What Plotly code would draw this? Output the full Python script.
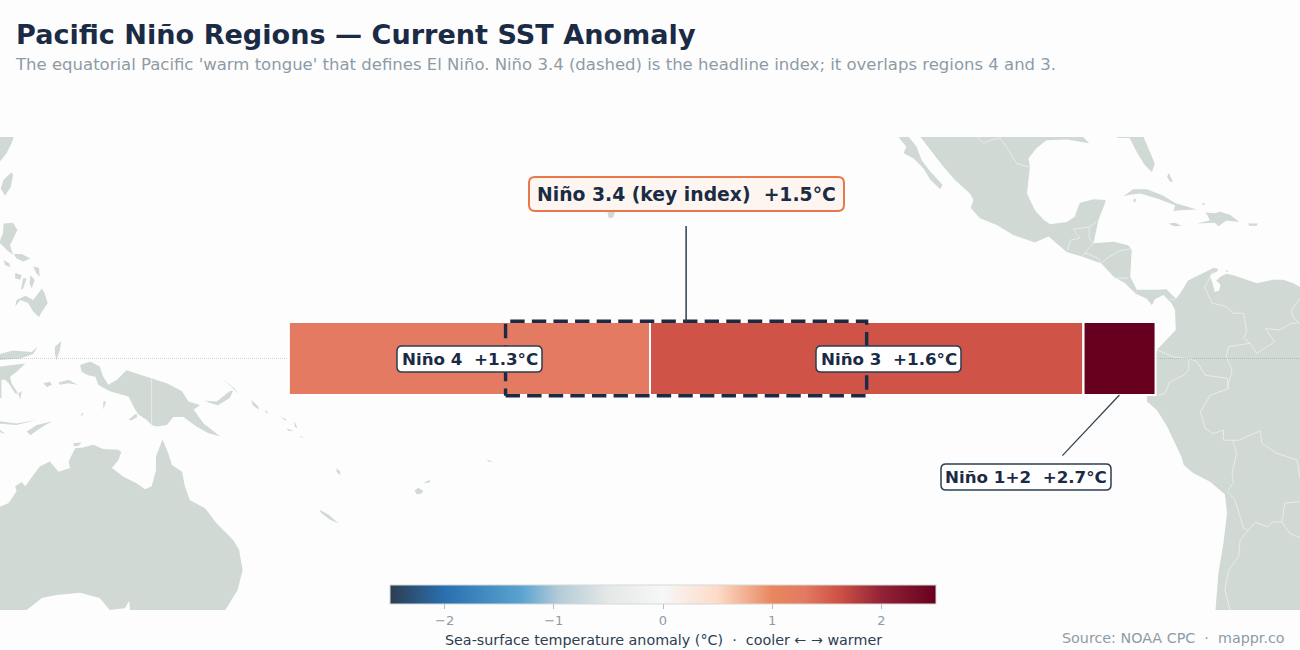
import plotly.graph_objects as go

# Niño regions: longitude edges (degrees east), latitude band, anomalies in °C
REGION_LON_EDGES = [160, 210, 270, 280]
REGION_LAT_EDGES = [-5, 5]
REGION_NAMES = ["Niño 4", "Niño 3", "Niño 1+2"]
REGION_ANOMALY = [1.3, 1.6, 2.7]
NINO34_LON = [190, 240]
NINO34_LAT = [-5.1, 5.1]
NINO34_ANOMALY = 1.5

LON_RANGE = [120, 300]
LAT_RANGE = [-34.45, 30.34]

COLOR_TICKS = [-2, -1, 0, 1, 2]
COLOR_STOPS = [
    (-2.5, "#2c3e50"), (-2.0, "#2a6fb0"), (-1.3, "#5aa3cf"), (-0.95, "#b5cbd8"),
    (-0.5, "#e4e8e6"), (0.0, "#f7f7f7"), (0.5, "#fddbc7"),
    (1.0, "#e8875f"), (1.3, "#e37a61"), (1.6, "#cf5346"), (2.0, "#922336"),
    (2.5, "#67001f"),
]

# Coastlines as (lon, lat) outlines
CHINA = [(120, 30.4), (121.9, 30.4), (121.6, 29.5), (120.9, 28.1), (120, 27)]
TAIWAN = [(121.6, 25.5), (121.8, 25.1), (121.5, 23.5), (120.7, 22.3), (120.1, 23.3), (120.5, 24.5)]
LUZON = [(120.5, 18.5), (121.8, 18.6), (122.4, 17.6), (121.8, 16.2), (121.4, 15.5), (121.8, 14.2),
         (120.9, 14.9), (120, 15.8), (120, 16.2), (120.4, 17.1)]
BICOL = [(121.9, 14.3), (123, 14.3), (124.2, 13.7), (123.2, 13.3), (122.3, 13.7)]
MINDORO = [(120.5, 13.5), (121.3, 13), (121.4, 12.5), (120.7, 12.8)]
SAMAR = [(124.6, 12.6), (125.4, 12.4), (125.5, 11.2), (125, 11.7)]
PANAY = [(122.1, 11.7), (123, 11.4), (122.8, 10.8), (122.1, 11)]
NEGROS = [(123.2, 11), (123.7, 11), (123.2, 9.6), (122.9, 9.4)]
LEYTE = [(124.2, 11.4), (124.8, 10.8), (124.4, 9.6), (124.1, 10.3)]
MINDANAO = [(124.6, 8), (125.8, 9.6), (126.2, 8.9), (126.6, 7.6), (125.8, 6.4), (125.4, 5.7),
            (124.6, 6.4), (123.9, 7.6), (122.8, 8), (122.1, 7.1), (122.3, 8), (123.5, 8.6)]
SULAWESI_NORTH = [(120, 0.6), (121.8, 1.1), (124.4, 0.9), (125.2, 1.6), (124.6, 0.6), (122.8, 0), (120, -0.2)]
SULAWESI_SOUTH = [(120, -1.1), (122.3, -0.9), (123.5, -0.7), (122.3, -1.8), (121.4, -2.5), (121.6, -3.4),
                  (122.5, -4.8), (122.1, -4.8), (121.2, -3.4), (120.7, -2.9), (120.2, -2.9), (120.2, -5.4), (120, -5.4)]
BUTON = [(122.5, -4.8), (123, -4.5), (122.8, -5.6)]
HALMAHERA = [(127.6, 1.6), (128.5, 2.4), (128.3, 1.2), (127.8, -0.2), (127.6, 0.7)]
SERAM = [(128.1, -3.3), (129.5, -2.9), (130.7, -3.6), (129.5, -3.4), (128.3, -3.6)]
BURU = [(126, -3.4), (126.9, -3.2), (127.2, -3.6), (126.5, -3.9)]
NEW_GUINEA = [(131.1, -0.9), (132.5, -0.4), (133.8, -1.1), (134.3, -2.5), (135, -3.6), (136.2, -2.9),
              (137.5, -1.6), (141, -2.7), (143.1, -3.4), (145.2, -4.5), (146.1, -5.9), (147.7, -6.4),
              (146.8, -7), (148.2, -8.9), (150.5, -10.7), (148.8, -10.2), (147.2, -9.3), (145.4, -8),
              (144, -8), (143.1, -9.1), (141.7, -9.3), (141, -9.1), (140.3, -8.4), (139.2, -7.7),
              (138.7, -7), (137.8, -5.2), (135.2, -4.5), (133.6, -3.6), (133.2, -2.5), (132.2, -2.3), (131.3, -1.8)]
DOLAK = [(137.8, -8.4), (138.9, -7.5), (139, -8), (138.2, -8.5)]
NEW_BRITAIN = [(148.4, -5.8), (150, -5.9), (151.8, -4.5), (152.3, -4.4), (151.8, -5.4), (150.2, -6.4), (149.1, -6.1)]
NEW_IRELAND = [(150.7, -2.7), (152.5, -4.1), (153, -4.8), (152.1, -3.9)]
BOUGAINVILLE = [(154.8, -5.7), (155.8, -6.6), (155.8, -7), (155, -6.4)]
CHOISEUL = [(156.7, -7), (157.2, -7.5), (156.8, -7.4)]
SANTA_ISABEL = [(158.8, -7.9), (159.7, -8.4), (159.5, -8.5)]
MALAITA = [(160.8, -8.6), (161.2, -9.6), (160.8, -9.3)]
GUADALCANAL = [(159.7, -9.6), (160.7, -9.9), (159.9, -9.9)]
MAKIRA = [(161.5, -10.6), (162.2, -10.9), (161.6, -10.8)]
VANUATU = [(166.6, -15), (167.1, -15.5), (167.1, -16), (166.6, -15.5)]
NEW_CALEDONIA = [(164.2, -20.7), (165.5, -21.4), (166.9, -22.6), (165.7, -22.1), (164.5, -21.2)]
VITI_LEVU = [(177.4, -18.1), (177.9, -17.7), (178.6, -18.1), (178.4, -18.5), (177.7, -18.6)]
VANUA_LEVU = [(178.6, -17.1), (179.5, -16.6), (179.5, -17)]
SAMOA = [(187.4, -13.8), (188.3, -14.2), (187.6, -14.1)]
TIMOR = [(123.7, -10), (125.1, -9.1), (127.2, -8.6), (125.5, -9.6), (124.2, -10.5)]
FLORES = [(120, -8.6), (122.3, -8.9), (125.1, -8.4), (122.3, -9.1), (120, -8.95)]
SUMBA = [(120, -9.8), (120.7, -10.3), (120.2, -10.2), (120, -10)]
ARU = [(134.3, -5.9), (134.7, -5.9), (134.3, -7)]
TANIMBAR = [(131.3, -7.5), (131.6, -7.5), (131.2, -8)]
MELVILLE = [(130.2, -11.6), (131.3, -11.5), (130.8, -12), (130.2, -12)]
AUSTRALIA = [(120, -20.3), (121.2, -19.8), (122.3, -18.2), (122.1, -17.5), (123, -16.9), (123.5, -17.5),
             (124.6, -16), (125.5, -14.8), (126.9, -14.1), (128.1, -15.5), (129.7, -15), (129.5, -14.1),
             (130.4, -12.3), (131.5, -12.2), (132.9, -11.8), (134.3, -12.4), (136.4, -12.5), (136.8, -12.8),
             (136.4, -13.9), (135.5, -15), (137.1, -16.2), (138.9, -17.1), (140.1, -17.9), (141, -17.5),
             (141.6, -15.3), (141.6, -13.4), (142.5, -11.1), (143.3, -13), (143.8, -14.6), (145.2, -15.5),
             (145.6, -17.5), (146.3, -19.4), (148.4, -20.5), (150, -22.6), (150.9, -23.5), (152.3, -24.9),
             (153.1, -26.2), (153.6, -29), (152.9, -31.7), (151.2, -34.45), (138, -34.45), (137.9, -33.2),
             (137.3, -34.2), (135.2, -34.45), (133.8, -32.8), (131.1, -32.1), (127.8, -32.4), (125.8, -32.8),
             (123.7, -34.45), (120, -34.45)]
HAWAII = [(204.1, 20), (205.2, 20.2), (204.9, 19.3), (204.3, 19.2)]
BAJA = [(244.4, 30.3), (245.8, 30.4), (246.9, 29), (247.6, 27.2), (248.8, 25.6), (250.5, 23.8), (250.2, 23.2),
        (248.8, 24.5), (247.9, 26), (246.5, 27.4), (245.1, 28.1), (245.5, 29)]
AMERICAS = [(247.4, 30.4), (250.6, 26.3), (252.2, 24.5), (254.3, 22.6), (254.8, 21.7), (254.4, 20.6),
            (255.7, 19.2), (258, 18.3), (260.3, 16.9), (263.3, 15.9), (264.7, 16.5), (265.2, 16.7),
            (267.7, 14.6), (270, 13.9), (272.5, 13), (274.2, 11.2), (275.8, 10.3), (277.2, 8.9),
            (278.8, 8.2), (279.5, 7.3), (279.9, 8.1), (281.1, 8.7), (282.2, 7.6), (282.7, 6.6),
            (282.8, 3.9), (281.1, 2.1), (280.2, 1.2), (279.9, 0), (279, -1), (279.2, -2.2), (279.9, -3),
            (279.8, -4), (278.8, -4.7), (278.8, -5.9), (280.2, -7.1), (281.6, -9.3), (283.6, -13.5),
            (283.9, -14.6), (285.2, -15.7), (287.6, -16.9), (289.6, -18.6), (289.9, -21.2), (289.4, -25.3),
            (288.7, -29.4), (288.3, -34.45), (300, -34.45), (300, 9.8), (299.1, 10.3), (297.7, 10.8),
            (296.3, 10.8), (294, 10.3), (292.6, 10.8), (290.8, 11.4), (289.8, 11.6), (289, 11.2),
            (288.4, 10.7), (289, 10.1), (288.8, 9.3), (288.2, 9.1), (287.9, 10.3), (287.5, 11.4),
            (288.5, 11.9), (288.7, 12.3), (288, 12.4), (286.6, 11.7), (284.5, 10.7), (283.4, 8.9),
            (282.8, 8.2), (281.5, 9.5), (280.2, 9.4), (277.4, 9.4), (276.5, 11.2), (276.7, 14.9),
            (276.2, 15.5), (274.2, 16), (271.4, 15.8), (271.8, 17.6), (272.1, 19), (272.9, 21),
            (273.1, 21.7), (271.4, 21.8), (269.5, 21.3), (268.8, 19.4), (267.7, 18.7), (265.4, 18.4),
            (264.5, 19), (263.3, 20.3), (262.2, 22.6), (262.6, 26.3), (262.4, 27.4), (263.5, 28.8),
            (264.9, 29.9), (267.7, 30), (269.5, 29.7), (270.8, 29.5), (270, 30.3), (270, 30.4)]
FLORIDA = [(274.7, 30.4), (278.3, 30.4), (279, 28.8), (279.9, 26.7), (279.5, 25.5), (278.5, 26.5),
           (277.4, 28.3), (276.7, 29.7), (276.4, 30.2), (274.7, 30.2)]
CUBA = [(275.5, 22.2), (276.9, 23.2), (278.8, 23.2), (281.1, 22.3), (282.7, 21.3), (285.7, 20.4),
        (283.4, 20.3), (282.5, 20.2), (282.7, 21), (280.2, 21.9), (277.9, 22.6), (276.2, 22.4)]
JUVENTUD = [(277, 21.9), (277.3, 21.8), (277.2, 21.4), (276.9, 21.5)]
JAMAICA = [(281.8, 18.5), (282.7, 18.6), (283.6, 18.2), (282.5, 18.1)]
HISPANIOLA = [(286.9, 20), (288.2, 19.9), (288.9, 20.1), (290.3, 19.7), (291.6, 18.7), (289.8, 18.9),
              (288.7, 18.1), (288.2, 18.6), (285.7, 18.5), (287.5, 18.9), (287.3, 19.4)]
PUERTO_RICO = [(292.8, 18.5), (294.2, 18.5), (294, 18.2), (293, 18.2)]
ANDROS = [(281.8, 25.4), (282.4, 24.2), (282, 24.2), (281.6, 24.9)]
ACKLINS = [(286.4, 21.3), (286.9, 21.2), (286.6, 21)]
ARUBA = [(289.6, 12.1), (290.1, 12), (289.9, 11.8)]

LAND_MASSES = [
    CHINA, TAIWAN, LUZON, BICOL, MINDORO, SAMAR, PANAY, NEGROS, LEYTE, MINDANAO, SULAWESI_NORTH,
    SULAWESI_SOUTH, BUTON, HALMAHERA, SERAM, BURU, NEW_GUINEA, DOLAK, NEW_BRITAIN, NEW_IRELAND,
    BOUGAINVILLE, CHOISEUL, SANTA_ISABEL, MALAITA, GUADALCANAL, MAKIRA, VANUATU, NEW_CALEDONIA,
    VITI_LEVU, VANUA_LEVU, SAMOA, TIMOR, FLORES, SUMBA, ARU, TANIMBAR, MELVILLE, AUSTRALIA, HAWAII,
    BAJA, AMERICAS, FLORIDA, CUBA, JUVENTUD, JAMAICA, HISPANIOLA, PUERTO_RICO, ANDROS, ACKLINS, ARUBA,
]

# National boundaries as open polylines
BORDERS = [
    [(141, -2.7), (141, -6), (141.1, -7), (141, -9.1)],
    [(255.2, 30.4), (256.2, 29.5), (257.1, 29.9), (258.5, 30.2), (259.6, 28.6), (260.8, 26.7), (262.6, 26.2)],
    [(267.8, 14.8), (268.2, 16.2), (269.5, 16.5), (268.6, 17.7), (270.8, 18), (270.8, 16.5), (271.4, 15.8)],
    [(270.8, 18), (271.8, 18.7)],
    [(271.4, 15.8), (270.2, 14.5), (269.8, 14)],
    [(270.2, 14.5), (272.1, 13.7), (272.4, 13.1)],
    [(272.5, 13.1), (273.7, 14), (275.1, 14.8), (276.7, 15)],
    [(274.2, 11), (276.2, 11)],
    [(277, 9.2), (277.4, 8.5)],
    [(282, 8.2), (282.7, 8)],
    [(288, 11.9), (286.8, 9.8), (287.8, 7.6), (289.8, 7.1), (290.8, 6.2), (292.2, 6.2), (292.6, 3.7),
     (292.2, 2.8), (293.1, 2.1), (294, 0.7), (296.5, 2.3), (295.2, 4.1), (297.2, 3.9), (298.8, 4.8), (300, 4.9)],
    [(300, 8.2), (298.8, 6.6), (299.1, 5.5), (299.9, 4.9)],
    [(293.1, 2.1), (290.1, 1.6), (289.8, 0.3), (290.6, -1.6), (289.9, -4.2)],
    [(280.2, 1.2), (282.5, 0.2), (284.6, 0), (285.7, -0.4), (286.9, -2.3), (289.9, -2.7), (290.1, -4.2)],
    [(284.6, -0.2), (284.6, -1.6), (283.9, -2.3), (282, -3.2), (281.3, -4.8), (280.4, -5)],
    [(289.9, -4.2), (287.6, -5), (286.2, -7.3), (286.9, -9.6), (288, -10.3), (289.4, -9.8), (289.4, -11.2), (290.7, -11.2)],
    [(290.7, -11.2), (291.2, -13), (290.6, -15.7), (290.8, -16.9), (290.1, -18)],
    [(290.7, -11.2), (291.5, -11.2), (294.5, -9.9), (294.7, -11.6), (296.8, -13), (299.6, -13.9), (300, -16.4)],
    [(289.9, -18.2), (291, -19.4), (292.2, -23.3), (292.9, -23.5), (293.8, -22.4), (295.6, -23.1), (296.1, -22.4), (297.5, -22.4)],
    [(297.5, -22.4), (297.9, -19.8), (300, -19.6)],
    [(297.5, -22.4), (298.6, -24), (300, -24.5)],
    [(292.9, -23.5), (291.7, -24.9), (291.5, -27.1), (290.1, -29), (289.6, -31.7), (290.3, -34.45)],
]

LEADER_34_LON = [215, 215]
LEADER_34_LAT = [5, 18.15]
LEADER_12_LON = [275, 267.1]
LEADER_12_LAT = [-5, -13.3]

BG = "#fdfdfe"
LAND = "#d0d9d4"
INK = "#1c2b45"
MUTED = "#8e9ba5"
FONT = "DejaVu Sans"


def with_gaps(shapes):
    lon, lat = [], []
    for shape in shapes:
        lon += [p[0] for p in shape] + [None]
        lat += [p[1] for p in shape] + [None]
    return lon, lat


def rect(lons, lats):
    # Ring starting at the south-west corner and running east
    return ([lons[0], lons[1], lons[1], lons[0], lons[0]],
            [lats[0], lats[0], lats[1], lats[1], lats[0]])


def round_box(left, top, width, height, radius, fill, line, line_width):
    """Rounded label plate given in page pixels, placed in paper coordinates."""
    def px(x, y):
        return f"{x / 1300:.5f},{1 - y / 650:.5f}"
    l, t, r, b = left, top, left + width, top + height
    k = radius
    path = (f"M {px(l + k, t)} L {px(r - k, t)} Q {px(r, t)} {px(r, t + k)} L {px(r, b - k)} "
            f"Q {px(r, b)} {px(r - k, b)} L {px(l + k, b)} Q {px(l, b)} {px(l, b - k)} "
            f"L {px(l, t + k)} Q {px(l, t)} {px(l + k, t)} Z")
    return dict(type="path", xref="paper", yref="paper", path=path, fillcolor=fill,
                line=dict(color=line, width=line_width), layer="above")


def signed(value):
    return f"{value:+.1f}°C"


span = COLOR_STOPS[-1][0] - COLOR_STOPS[0][0]
colorscale = [[(v - COLOR_STOPS[0][0]) / span, c] for v, c in COLOR_STOPS]

fig = go.Figure()

# Base map on the lower axes
land_lon, land_lat = with_gaps(LAND_MASSES)
fig.add_trace(go.Scatter(x=land_lon, y=land_lat, mode="lines", fill="toself", fillcolor=LAND,
                         line=dict(width=0), hoverinfo="skip", showlegend=False))
border_lon, border_lat = with_gaps(BORDERS)
fig.add_trace(go.Scatter(x=border_lon, y=border_lat, mode="lines",
                         line=dict(color="#edf1ee", width=0.8), hoverinfo="skip", showlegend=False))
fig.add_trace(go.Scatter(x=LON_RANGE, y=[0, 0], mode="lines",
                         line=dict(color="rgba(100,115,140,0.3)", width=1, dash="1px,1px"),
                         hoverinfo="skip", showlegend=False))

# Regions sit on overlaying axes so that they cover the land beneath them
fig.add_trace(go.Heatmap(
    x=REGION_LON_EDGES, y=REGION_LAT_EDGES, z=[REGION_ANOMALY], text=[REGION_NAMES],
    hovertemplate="%{text}: %{z:+.1f}°C<extra></extra>",
    zmin=-2.5, zmax=2.5, colorscale=colorscale, xaxis="x2", yaxis="y2",
    colorbar=dict(
        orientation="h", x=663 / 1300, xanchor="center", y=1 - 585 / 650, yanchor="top", xpad=0, ypad=0,
        lenmode="pixels", len=546, thickness=19, outlinecolor="#d5d9d8", outlinewidth=1,
        tickmode="array", tickvals=COLOR_TICKS, ticks="outside", ticklen=5, tickcolor="#b4bcc2",
        tickfont=dict(family=FONT, size=13, color=MUTED),
    ),
))

for i in range(len(REGION_ANOMALY)):
    lon, lat = rect(REGION_LON_EDGES[i:i + 2], REGION_LAT_EDGES)
    fig.add_trace(go.Scatter(x=lon, y=lat, mode="lines", line=dict(color="white", width=2),
                             hoverinfo="skip", showlegend=False, xaxis="x2", yaxis="y2"))

lon, lat = rect(NINO34_LON, NINO34_LAT)
fig.add_trace(go.Scatter(x=lon, y=lat, mode="lines", line=dict(color=INK, width=3.4, dash="14.4px,7.2px"),
                         hoverinfo="skip", showlegend=False, xaxis="x2", yaxis="y2"))
fig.add_trace(go.Scatter(x=LEADER_34_LON, y=LEADER_34_LAT, mode="lines", line=dict(color="#2c3e50", width=1.5),
                         hoverinfo="skip", showlegend=False, xaxis="x2", yaxis="y2"))
fig.add_trace(go.Scatter(x=LEADER_12_LON, y=LEADER_12_LAT, mode="lines", line=dict(color="#2c3e50", width=1.2),
                         hoverinfo="skip", showlegend=False, xaxis="x2", yaxis="y2"))

axis = dict(visible=False, fixedrange=True)
map_domain = [1 - 610 / 650, 1 - 137 / 650]

plates = [
    round_box(529, 177, 315, 34, 6, "#fdf6f0", "#e8784a", 2),
    round_box(397, 346, 145, 26, 5, "white", "#2c3e50", 1.5),
    round_box(816, 346, 145, 26, 5, "white", "#2c3e50", 1.5),
    round_box(941, 464, 170, 26, 5, "white", "#2c3e50", 1.5),
]


def label(text, x, y, size):
    return dict(text=f"<b>{text}</b>", xref="paper", yref="paper", x=x / 1300, y=1 - y / 650,
                xanchor="center", yanchor="middle", showarrow=False,
                font=dict(family=FONT, size=size, color=INK))


annotations = [
    label(f"Niño 3.4 (key index)  {signed(NINO34_ANOMALY)}", 686.5, 194, 18.8),
    label(f"{REGION_NAMES[0]}  {signed(REGION_ANOMALY[0])}", 469.5, 359, 16.7),
    label(f"{REGION_NAMES[1]}  {signed(REGION_ANOMALY[1])}", 888.5, 359, 16.7),
    label(f"{REGION_NAMES[2]}  {signed(REGION_ANOMALY[2])}", 1026, 477, 16.7),
    dict(text="The equatorial Pacific 'warm tongue' that defines El Niño. Niño 3.4 (dashed) is the headline index; "
              "it overlaps regions 4 and 3.",
         xref="paper", yref="paper", x=13 / 1300, y=1 - 64 / 650, xanchor="left", yanchor="middle",
         showarrow=False, font=dict(family=FONT, size=16.5, color=MUTED)),
    dict(text="Source: NOAA CPC  ·  mappr.co", xref="paper", yref="paper", x=1287 / 1300, y=1 - 638 / 650,
         xanchor="right", yanchor="middle", showarrow=False, font=dict(family=FONT, size=14.3, color=MUTED)),
    dict(text="Sea-surface temperature anomaly (°C)  ·  cooler ← → warmer", xref="paper", yref="paper",
         x=663 / 1300, y=1 - 640 / 650, xanchor="center", yanchor="middle", showarrow=False,
         font=dict(family=FONT, size=14.3, color="#2c3e50")),
]

fig.update_layout(
    width=1300, height=650, margin=dict(l=0, r=0, t=0, b=0, autoexpand=False),
    paper_bgcolor=BG, plot_bgcolor=BG, showlegend=False,
    title=dict(text="<b>Pacific Niño Regions — Current SST Anomaly</b>", x=16 / 1300, xanchor="left",
               y=1 - 35 / 650, yanchor="middle", font=dict(family=FONT, size=27.1, color=INK)),
    xaxis=dict(range=LON_RANGE, domain=[0, 1], **axis),
    yaxis=dict(range=LAT_RANGE, domain=map_domain, **axis),
    xaxis2=dict(range=LON_RANGE, domain=[0, 1], overlaying="x", **axis),
    yaxis2=dict(range=LAT_RANGE, domain=map_domain, overlaying="y", **axis),
    shapes=plates, annotations=annotations,
)

fig.write_html("out.html", config=dict(displayModeBar=False))
